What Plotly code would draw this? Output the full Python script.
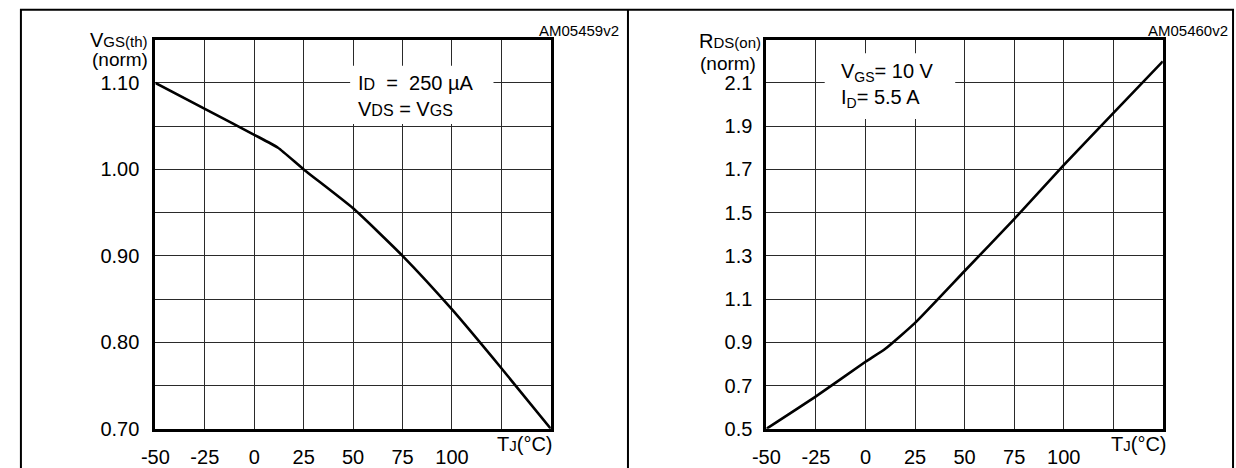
import plotly.graph_objects as go

W, H = 1236, 468

# ---- data ----
tj_left = [-50, -25, 0, 12, 25, 50, 75, 100, 125, 150]
vgs_th_norm = [1.10, 1.07, 1.04, 1.025, 1.00, 0.955, 0.90, 0.838, 0.77, 0.70]

tj_right = [-50, -25, 0, 10, 25, 50, 75, 100, 125, 150]
rds_on_norm = [0.50, 0.65, 0.81, 0.87, 0.99, 1.23, 1.47, 1.72, 1.96, 2.20]

x_tickvals = [-50, -25, 0, 25, 50, 75, 100, 125, 150]
x_ticktext = ["-50", "-25", "0", "25", "50", "75", "100", "", ""]

yl_tickvals = [0.70, 0.75, 0.80, 0.85, 0.90, 0.95, 1.00, 1.05, 1.10, 1.15]
yl_ticktext = ["0.70", "", "0.80", "", "0.90", "", "1.00", "", "1.10", ""]

yr_tickvals = [0.5, 0.7, 0.9, 1.1, 1.3, 1.5, 1.7, 1.9, 2.1, 2.3]
yr_ticktext = ["0.5", "0.7", "0.9", "1.1", "1.3", "1.5", "1.7", "1.9", "2.1", ""]

FONT = "Liberation Sans, Arial, Helvetica, sans-serif"
FS = 20


def px(x):
    return x / W


def py(y):
    return 1 - y / H


fig = go.Figure()
fig.add_trace(go.Scatter(x=tj_left, y=vgs_th_norm, mode="lines",
                         line=dict(color="black", width=2.6, shape="spline", smoothing=0.5),
                         xaxis="x", yaxis="y", showlegend=False, hoverinfo="skip"))
fig.add_trace(go.Scatter(x=tj_right, y=rds_on_norm, mode="lines",
                         line=dict(color="black", width=2.6, shape="spline", smoothing=0.5),
                         xaxis="x2", yaxis="y2", showlegend=False, hoverinfo="skip"))

ydom = [py(443), py(41)]
axis_common = dict(showgrid=True, gridcolor="#2a2a2a", gridwidth=1,
                   showline=True, linecolor="black", linewidth=3, mirror=True,
                   zeroline=False, ticks="", tickfont=dict(family=FONT, size=FS, color="black"),
                   fixedrange=True)

fig.update_layout(
    width=W, height=H, margin=dict(l=0, r=0, t=0, b=0),
    paper_bgcolor="white", plot_bgcolor="white",
    font=dict(family=FONT, color="black"),
    xaxis=dict(domain=[px(143), px(543)], range=[-50, 150], tickmode="array",
               tickvals=x_tickvals, ticktext=x_ticktext, anchor="y",
               ticklabelstandoff=8, **axis_common),
    yaxis=dict(domain=ydom, range=[0.70, 1.15], tickmode="array",
               tickvals=yl_tickvals, ticktext=yl_ticktext, anchor="x",
               ticklabelstandoff=9, **axis_common),
    xaxis2=dict(domain=[px(761), px(1162)], range=[-50, 150], tickmode="array",
                tickvals=x_tickvals, ticktext=x_ticktext, anchor="y2",
                ticklabelstandoff=8, **axis_common),
    yaxis2=dict(domain=ydom, range=[0.5, 2.3], tickmode="array",
                tickvals=yr_tickvals, ticktext=yr_ticktext, anchor="x2",
                ticklabelstandoff=7, **axis_common),
)

shapes = [
    # outer frame and divider
    dict(type="rect", xref="paper", yref="paper", x0=px(7), x1=px(1233), y0=-0.2, y1=py(10),
         line=dict(color="black", width=2), fillcolor="rgba(0,0,0,0)", layer="above"),
    dict(type="line", xref="paper", yref="paper", x0=px(621), x1=px(621), y0=-0.2, y1=py(10),
         line=dict(color="black", width=2), layer="above"),
    # white boxes behind the condition labels
    dict(type="rect", xref="paper", yref="paper", x0=px(340), x1=px(485), y0=py(128), y1=py(68),
         line=dict(width=0), fillcolor="white", layer="above"),
    dict(type="rect", xref="paper", yref="paper", x0=px(820), x1=px(952), y0=py(123), y1=py(55),
         line=dict(width=0), fillcolor="white", layer="above"),
]
fig.update_layout(shapes=shapes)


def sm(t, size=15):
    return "<span style='font-size:%dpx'>%s</span>" % (size, t)


ann = []


def add(text, x, y, xanchor="right", yanchor="middle", size=FS, align="left"):
    ann.append(dict(text=text, xref="paper", yref="paper", x=x, y=y, xanchor=xanchor,
                    yanchor=yanchor, showarrow=False, align=align,
                    font=dict(family=FONT, size=size, color="black")))


# left panel
add("V" + sm("GS(th)"), px(138), py(41))
add("(norm)", px(138), py(61), size=19)
add("AM05459v2", px(614), py(32), size=15)
add("T" + sm("J") + "(°C)", px(546), py(459))
add("I" + sm("D", 16) + "&nbsp;&nbsp;= &nbsp;250 µA<br>V" + sm("DS", 16) + "&nbsp;= V" + sm("GS", 16),
    px(346), py(99), xanchor="left")

# right panel
add("R" + sm("DS(on)"), px(758), py(42))
add("(norm)", px(753), py(66), size=19)
add("AM05460v2", px(1230), py(32), size=15)
add("T" + sm("J") + "(°C)", px(1167), py(459))
add("V<sub>GS</sub>= 10 V<br>I<sub>D</sub>= 5.5 A", px(834), py(88), xanchor="left")

fig.update_layout(annotations=ann)

fig.write_html("out.html", config={"displayModeBar": False},
               post_script="document.body.style.margin='0';document.body.style.overflow='hidden';")
